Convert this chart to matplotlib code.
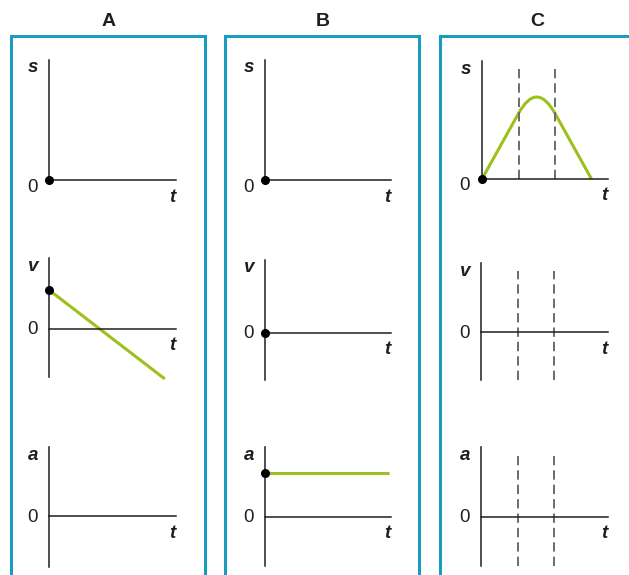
import matplotlib
matplotlib.use('Agg')
import matplotlib.pyplot as plt
from matplotlib.path import Path
from matplotlib.patches import PathPatch, Rectangle

plt.rcParams['font.family'] = ['Liberation Sans', 'DejaVu Sans']

W, H = 629, 575
GREEN = '#9cc01c'
INK = '#1f1f1f'
FRAME = '#1a9cc0'
DASH = '#6b6b6b'
FS = 13.5

panels = ['A', 'B', 'C']
rows = ['s', 'v', 'a']

# A: velocity falls off linearly and changes sign
v_A_t = [0, 2.28]
v_A = [1.0, -1.28]

# B: constant acceleration from rest
a_B_t = [0, 2.44]
a_B = [1.0, 1.0]

# C: straight up, parabolic turn-over, straight back down
s_C_t = [0, 1, 1.5, 2, 3]
s_C = [0, 1, 1.5, 1, 0]
s_C_codes = [Path.MOVETO, Path.LINETO, Path.CURVE3, Path.CURVE3, Path.LINETO]
C_marks = [1, 2]

# black dots at t = 0
start_dots = {
    ('A', 's'): (0, 0),
    ('A', 'v'): (0, v_A[0]),
    ('B', 's'): (0, 0),
    ('B', 'v'): (0, 0),
    ('B', 'a'): (0, a_B[0]),
    ('C', 's'): (0, 0),
}

# pixel layout: origin x, zero line y, end of t axis, top, bottom, px per unit (t, y)
layout = {
    ('A', 's'): (49, 180, 176, 60, 180, 50.8, 40),
    ('A', 'v'): (49, 329, 176, 258, 377, 50.8, 39),
    ('A', 'a'): (49, 516, 176, 447, 567, 50.8, 40),
    ('B', 's'): (265, 180, 391, 60, 180, 50.8, 40),
    ('B', 'v'): (265, 333, 391, 260, 380, 50.8, 40),
    ('B', 'a'): (265, 517, 391, 447, 566, 50.8, 44),
    ('C', 's'): (482, 179, 608, 61, 179, 36.5, 65.6),
    ('C', 'v'): (481, 332, 608, 263, 380, 36.5, 40),
    ('C', 'a'): (481, 517, 608, 447, 566, 36.5, 40),
}
dash_top = {'s': 69, 'v': 271, 'a': 456}
frame_left = {'A': 11, 'B': 225, 'C': 440}
frame_width = 194

fig = plt.figure(figsize=(W / 100, H / 100), dpi=100)


def ftext(x, y, s, size=FS, **kw):
    fig.text(x / W, 1 - y / H, s, ha='center', va='center', fontsize=size, color=INK, **kw)


for p in panels:
    fl = frame_left[p]
    fig.add_artist(Rectangle((fl / W, -0.05), frame_width / W, 1.05 - 36 / H,
                             transform=fig.transFigure, fill=False, ec=FRAME, lw=2.2))
    ftext(fl + frame_width / 2 + 0.5, 21, p, size=14, fontweight='bold')

    for q in rows:
        x0, y0, xe, top, bot, tpx, ypx = layout[(p, q)]
        ax = fig.add_axes([x0 / W, (H - bot) / H, (xe - x0) / W, (bot - top) / H])
        ax.set_xlim(0, (xe - x0) / tpx)
        ax.set_ylim(-(bot - y0) / ypx, (y0 - top) / ypx)
        ax.patch.set_visible(False)
        for side in ['top', 'right']:
            ax.spines[side].set_visible(False)
        ax.spines['bottom'].set_position(('data', 0))
        for side in ['left', 'bottom']:
            ax.spines[side].set_color(INK)
            ax.spines[side].set_linewidth(1.1)
        ax.set_xticks([])
        ax.set_yticks([])

        if p == 'A' and q == 'v':
            ax.plot(v_A_t, v_A, color=GREEN, lw=2.2, clip_on=False, solid_capstyle='butt')
        if p == 'B' and q == 'a':
            ax.plot(a_B_t, a_B, color=GREEN, lw=2.2, clip_on=False, solid_capstyle='butt')
        if p == 'C':
            ymin = 0 if q == 's' else ax.get_ylim()[0]
            ax.vlines(C_marks, ymin, (y0 - dash_top[q]) / ypx, colors=DASH, lw=1.4,
                      linestyles=(0, (4.8, 2.6)))
            if q == 's':
                ax.add_patch(PathPatch(Path(list(zip(s_C_t, s_C)), s_C_codes),
                                       fill=False, ec=GREEN, lw=2.2, clip_on=False))
        if (p, q) in start_dots:
            t, y = start_dots[(p, q)]
            ax.plot([t], [y], 'o', color='black', ms=5.5, clip_on=False, zorder=5)

        ftext(x0 - 16, top + 8, q, fontweight='bold', fontstyle='italic')
        ftext(x0 - 17, y0 + (7 if q == 's' else 1), '0')
        ftext(xe - 4, y0 + 17, 't', fontweight='bold', fontstyle='italic')

fig.savefig('out.png', dpi=100)
